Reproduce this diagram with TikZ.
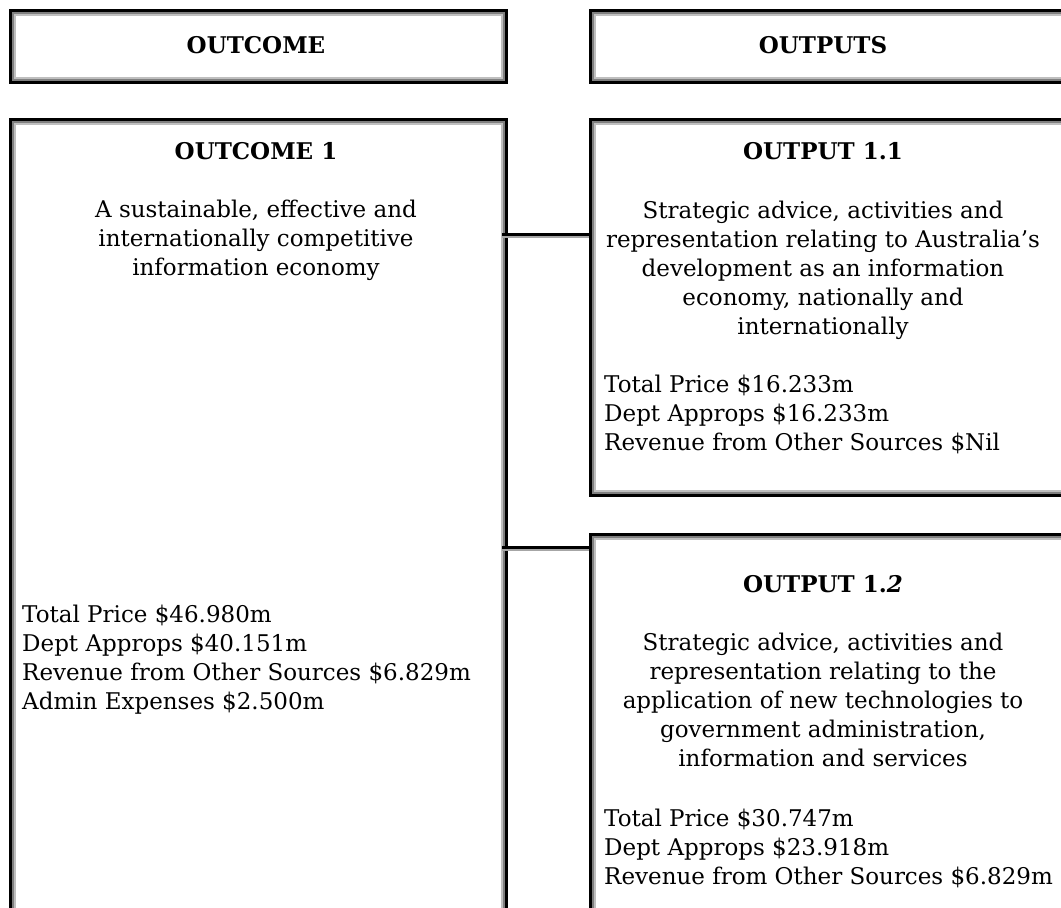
\documentclass[tikz,border=0pt]{standalone}
\usepackage{fontspec}
\setmainfont{DejaVu Serif}
\usepackage{tikz}

\begin{document}
\begin{tikzpicture}[x=1pt,y=-1pt,
    frame/.style={draw=black, line width=3pt, inner sep=0pt, anchor=north west,
      path picture={
        \draw[gray!50, line width=11pt] (path picture bounding box.south west) rectangle (path picture bounding box.north east);
        \draw[gray, line width=7pt] (path picture bounding box.south west) rectangle (path picture bounding box.north east);
      }},
    txt/.style={inner sep=0pt, anchor=north, align=center, font=\fontsize{23}{29}\selectfont},
    money/.style={inner sep=0pt, anchor=north west, align=left, font=\fontsize{23}{29}\selectfont},
    head/.style={inner sep=0pt, font=\fontsize{23}{29}\selectfont\bfseries},
    link/.style={draw=black, line width=3pt,
      preaction={draw=gray!70, line width=2pt, transform canvas={yshift=-2.5pt}}}]
  \useasboundingbox (0,0) rectangle (1061,908);
  \clip (0,0) rectangle (1061,908);
  \fill[white] (0,0) rectangle (1061,908);
  % column heads
  \node[frame, minimum width=496pt, minimum height=72pt] (hdout) at (8.5,8.5) {};
  \node[frame, minimum width=480pt, minimum height=72pt] (hdput) at (588.5,8.5) {};
  \node[head] (hdoutlbl) at (256,45) {OUTCOME};
  \node[head] (hdputlbl) at (823,45) {OUTPUTS};
  % outcome box
  \node[frame, minimum width=496pt, minimum height=794pt] (oc1) at (8.5,117.5) {};
  \node[head] (oc1lbl) at (256,151) {OUTCOME 1};
  \node[txt] (oc1txt) at (256,200) {A sustainable, effective and\\internationally competitive\\information economy};
  \node[money] (oc1cost) at (22,605) {Total Price \$46.980m\\Dept Approps \$40.151m\\Revenue from Other Sources \$6.829m\\Admin Expenses \$2.500m};
  % output 1.1
  \node[frame, minimum width=480pt, minimum height=376pt] (op1) at (588.5,117.5) {};
  \node[head] (op1lbl) at (823,151) {OUTPUT 1.1};
  \node[txt] (op1txt) at (823,201) {Strategic advice, activities and\\representation relating to Australia’s\\development as an information\\economy, nationally and\\internationally};
  \node[money] (op1cost) at (604,375) {Total Price \$16.233m\\Dept Approps \$16.233m\\Revenue from Other Sources \$Nil};
  % output 1.2
  \node[frame, minimum width=480pt, minimum height=379pt] (op2) at (588.5,532.5) {};
  \node[head] (op2lbl) at (823,584) {OUTPUT 1.\textit{2}};
  \node[txt] (op2txt) at (823,633) {Strategic advice, activities and\\representation relating to the\\application of new technologies to\\government administration,\\information and services};
  \node[money] (op2cost) at (604,809) {Total Price \$30.747m\\Dept Approps \$23.918m\\Revenue from Other Sources \$6.829m};
  % connectors
  \coordinate (j1) at (502,234);
  \coordinate (j2) at (502,547);
  \draw[link] (j1) -- (j1 -| op1.west);
  \draw[link] (j2) -- (j2 -| op2.west);
\end{tikzpicture}
\end{document}
